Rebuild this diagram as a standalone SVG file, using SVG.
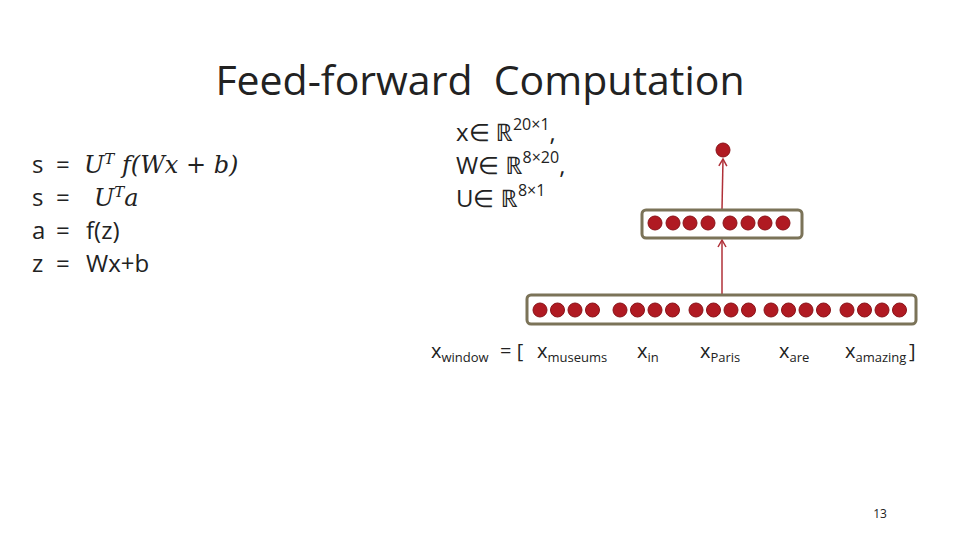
<svg xmlns="http://www.w3.org/2000/svg" width="960" height="540" viewBox="0 0 960 540">
<style>
text{font-family:"Open Sans","Noto Sans",sans-serif;fill:#222}
.m{font-family:"DejaVu Serif","Liberation Serif",serif;font-style:italic}
.n{fill:#b01a22;stroke:#8a1218;stroke-width:1}
.box{fill:#fff;stroke:#7b7358;stroke-width:3}
.sub{font-size:13px}
.c{stroke:#b03038;stroke-width:1.5;fill:none}
</style>
<defs><marker id="ah" markerWidth="10" markerHeight="10" refX="8" refY="5" orient="auto" markerUnits="userSpaceOnUse"><path d="M1,1 L8,5 L1,9" fill="none" stroke="#b03038" stroke-width="1.5"/></marker></defs>
<rect width="960" height="540" fill="#fff"/>
<text x="480" y="95" font-size="41" text-anchor="middle" xml:space="preserve">Feed-forward  Computation</text>
<g id="equations" font-size="24">
<text x="32" y="173">s</text><text x="56" y="173">=</text>
<text x="84" y="173" class="m">U<tspan font-size="15" dy="-9">T</tspan><tspan dy="9"> f</tspan>(Wx + b)</text>
<text x="32" y="206">s</text><text x="56" y="206">=</text>
<text x="94" y="206" class="m">U<tspan font-size="15" dy="-9">T</tspan><tspan dy="9">a</tspan></text>
<text x="32" y="239">a</text><text x="56" y="239">=</text><text x="86" y="239">f(z)</text>
<text x="32" y="272">z</text><text x="56" y="272">=</text><text x="86" y="272">Wx+b</text>
</g>
<g id="dims" font-size="24">
<text x="456" y="141">x∈ ℝ<tspan font-size="16" dy="-11">20×1</tspan><tspan dy="11">,</tspan></text>
<text x="456" y="174">W∈ ℝ<tspan font-size="16" dy="-11">8×20</tspan><tspan dy="11">,</tspan></text>
<text x="456" y="207">U∈ ℝ<tspan font-size="16" dy="-11">8×1</tspan></text>
</g>
<g id="connectors">
<line class="c" x1="722" y1="294" x2="722" y2="240" marker-end="url(#ah)"/>
<line class="c" x1="722" y1="209" x2="723" y2="159" marker-end="url(#ah)"/>
</g>
<g id="output"><circle class="n" cx="723" cy="150" r="7"/></g>
<g id="hidden">
<rect class="box" x="642" y="210" width="160" height="28" rx="4"/>
<g>
<circle class="n" cx="655" cy="223" r="7"/><circle class="n" cx="673" cy="223" r="7"/><circle class="n" cx="690" cy="223" r="7"/><circle class="n" cx="708" cy="223" r="7"/>
<circle class="n" cx="730" cy="223" r="7"/><circle class="n" cx="748" cy="223" r="7"/><circle class="n" cx="765" cy="223" r="7"/><circle class="n" cx="783" cy="223" r="7"/>
</g>
</g>
<g id="input">
<rect class="box" x="527" y="295" width="389" height="29" rx="4"/>
<g>
<circle class="n" cx="540" cy="310" r="7"/><circle class="n" cx="557.5" cy="310" r="7"/><circle class="n" cx="575" cy="310" r="7"/><circle class="n" cx="592.5" cy="310" r="7"/>
<circle class="n" cx="620" cy="310" r="7"/><circle class="n" cx="637.5" cy="310" r="7"/><circle class="n" cx="655" cy="310" r="7"/><circle class="n" cx="672.5" cy="310" r="7"/>
<circle class="n" cx="696" cy="310" r="7"/><circle class="n" cx="713.5" cy="310" r="7"/><circle class="n" cx="731" cy="310" r="7"/><circle class="n" cx="748.5" cy="310" r="7"/>
<circle class="n" cx="771" cy="310" r="7"/><circle class="n" cx="788.5" cy="310" r="7"/><circle class="n" cx="806" cy="310" r="7"/><circle class="n" cx="823.5" cy="310" r="7"/>
<circle class="n" cx="847" cy="310" r="7"/><circle class="n" cx="864.5" cy="310" r="7"/><circle class="n" cx="882" cy="310" r="7"/><circle class="n" cx="899.5" cy="310" r="7"/>
</g>
</g>
<g id="labels" font-size="20">
<text x="431" y="358">x<tspan class="sub" dy="4">window</tspan></text>
<text x="500" y="358">= [</text>
<text x="537" y="358">x<tspan class="sub" dy="4">museums</tspan></text>
<text x="637" y="358">x<tspan class="sub" dy="4">in</tspan></text>
<text x="700" y="358">x<tspan class="sub" dy="4">Paris</tspan></text>
<text x="779" y="358">x<tspan class="sub" dy="4">are</tspan></text>
<text x="845" y="358">x<tspan class="sub" dy="4">amazing</tspan></text>
<text x="909" y="358">]</text>
</g>
<text x="880" y="518" font-size="12" text-anchor="middle" fill="#666">13</text>
</svg>
